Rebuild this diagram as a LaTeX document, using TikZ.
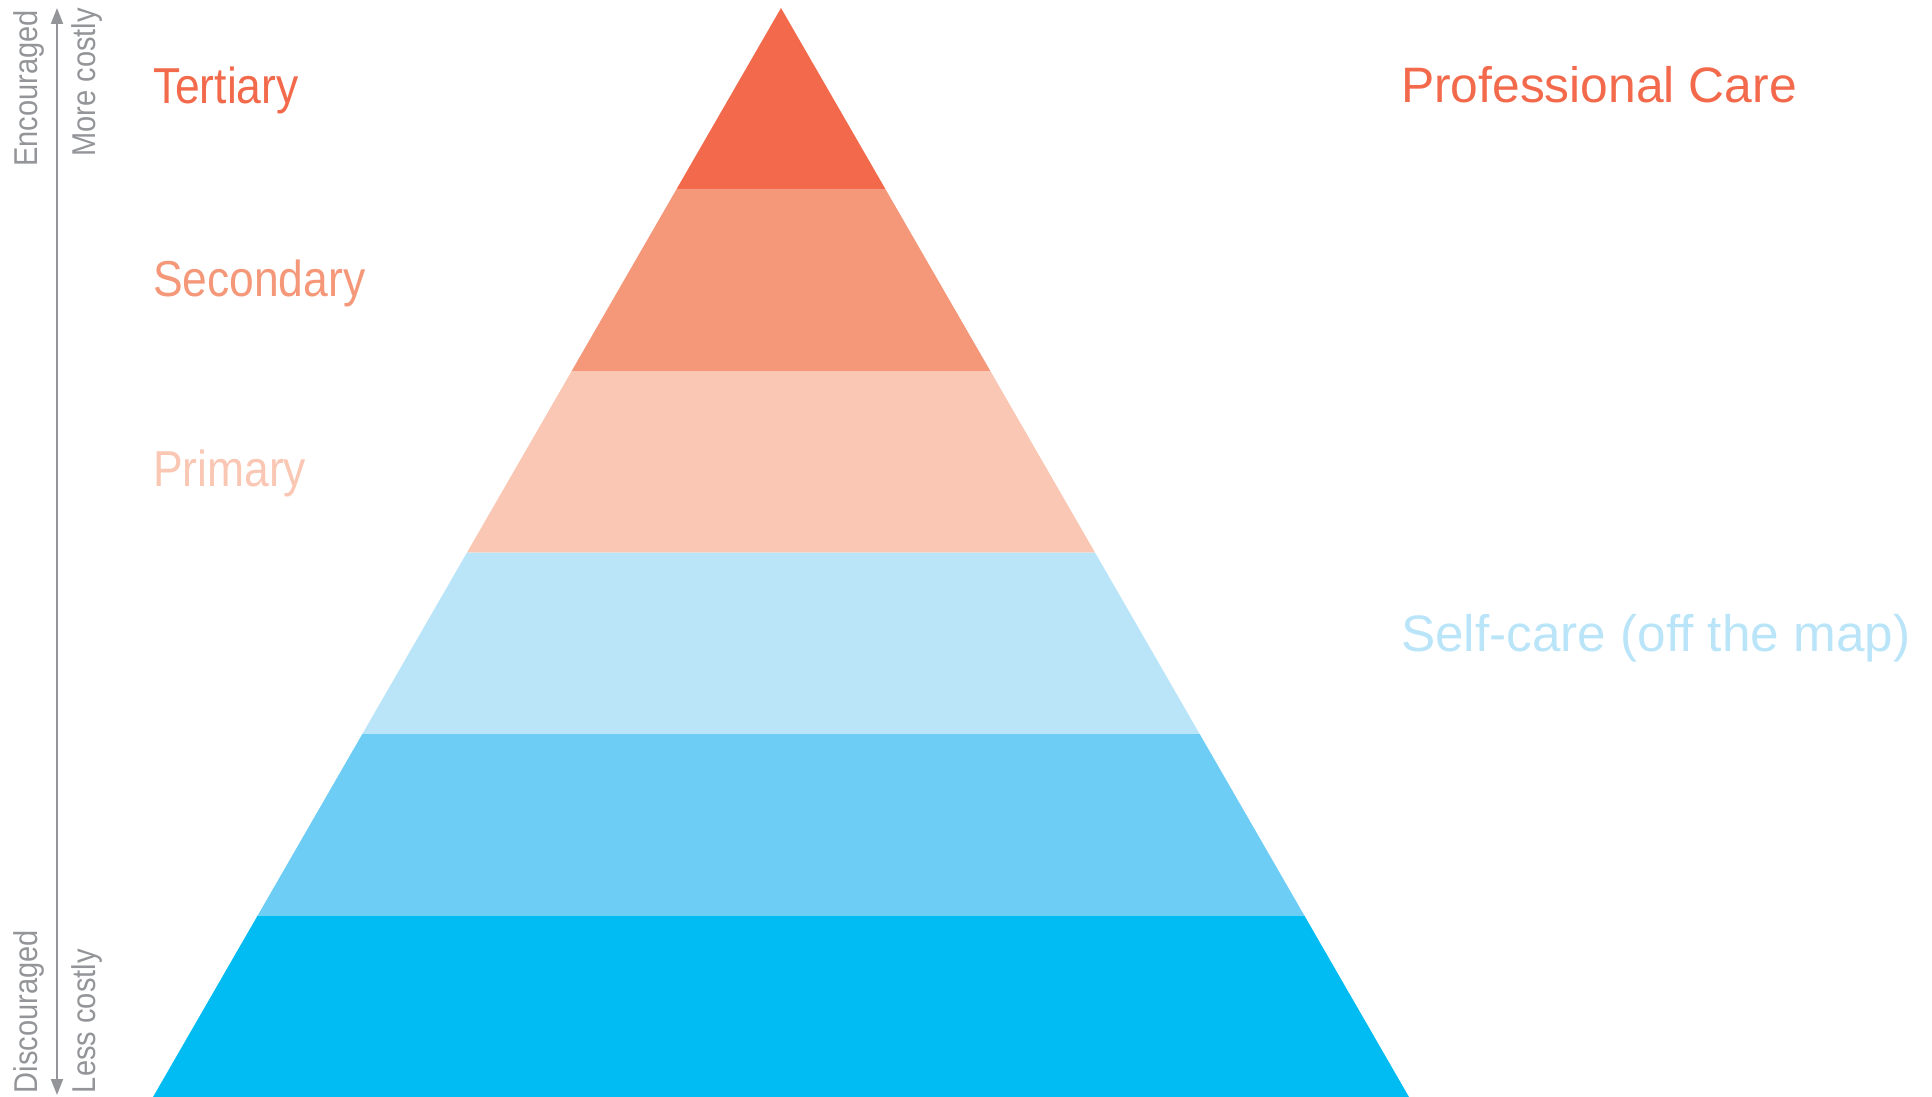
\documentclass[tikz,border=0pt]{standalone}
\usepackage{fontspec}
\setmainfont{Liberation Sans}
\newfontfamily\condfont[FakeStretch=0.88]{Liberation Sans}
\usetikzlibrary{arrows.meta}
\definecolor{tertiary}{HTML}{F26A4B}
\definecolor{secondary}{HTML}{F59779}
\definecolor{primary}{HTML}{F9C7B3}
\definecolor{selfcare}{HTML}{BAE5F9}
\definecolor{midblue}{HTML}{6DCDF5}
\definecolor{deepblue}{HTML}{00BCF2}
\definecolor{arrowgray}{HTML}{939598}

\begin{document}
\begin{tikzpicture}[x=1pt, y=-1pt,
    every node/.style = {inner sep=0pt, outer sep=0pt},
    tierlabel/.style = {anchor=base west,
      font=\condfont\fontsize{50.5}{50.5}\selectfont},
    carelabel/.style = {anchor=base west},
    sidelabel/.style = {rotate=90, text=arrowgray,
      font=\condfont\fontsize{33}{33}\selectfont}]
  \useasboundingbox (0,0) rectangle (1932,1097);
  % pyramid bands, top to bottom
  \fill[tertiary]  (781,8) -- (885.67,189.5) -- (676.33,189.5) -- cycle;
  \fill[secondary] (676.33,189.5) -- (885.67,189.5) -- (990.33,371) -- (571.67,371) -- cycle;
  \fill[primary]   (571.67,371) -- (990.33,371) -- (1095,552.5) -- (467,552.5) -- cycle;
  \fill[selfcare]  (467,552.5) -- (1095,552.5) -- (1199.67,734) -- (362.33,734) -- cycle;
  \fill[midblue]   (362.33,734) -- (1199.67,734) -- (1304.33,915.5) -- (257.67,915.5) -- cycle;
  \fill[deepblue]  (257.67,915.5) -- (1304.33,915.5) -- (1409,1097) -- (153,1097) -- cycle;
  % tier names
  \node[tierlabel, text=tertiary]  (tert) at (153,104) {Tertiary};
  \node[tierlabel, text=secondary] (sec)  at (153,296) {Secondary};
  \node[tierlabel, text=primary]   (prim) at (153,486) {Primary};
  \node[carelabel, text=tertiary, font=\fontsize{49.8}{49.8}\selectfont]
    (prof) at (1401,103) {Professional Care};
  \node[carelabel, text=selfcare, font=\fontsize{51.3}{51.3}\selectfont]
    (self) at (1401,651) {Self-care (off the map)};
  % cost axis
  \coordinate (costtop) at (57,8);
  \coordinate (costbot) at (57,1095);
  \draw[arrowgray, line width=2pt,
    {Triangle[length=16pt,width=12pt]}-{Triangle[length=16pt,width=12pt]}]
    (costbot) -- (costtop);
  \node[sidelabel, anchor=base east] (enc)  at (37,10)   {Encouraged};
  \node[sidelabel, anchor=base east] (more) at (95,8)    {More costly};
  \node[sidelabel, anchor=base west] (disc) at (37,1093) {Discouraged};
  \node[sidelabel, anchor=base west] (less) at (95,1093) {Less costly};
\end{tikzpicture}
\end{document}
